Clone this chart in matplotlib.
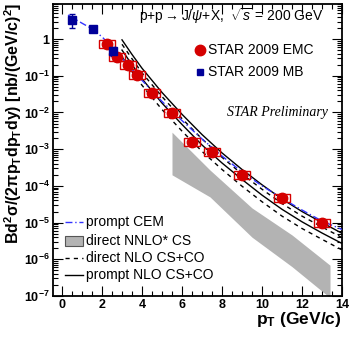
import math
import matplotlib
matplotlib.use("Agg")
import matplotlib.pyplot as plt
from matplotlib.patches import Rectangle
from matplotlib.lines import Line2D
from matplotlib.ticker import FixedLocator, FuncFormatter, LogLocator, NullFormatter

plt.rcParams["font.family"] = ["Liberation Sans", "DejaVu Sans"]
plt.rcParams["mathtext.fontset"] = "custom"
plt.rcParams["mathtext.rm"] = "Liberation Sans"
plt.rcParams["mathtext.bf"] = "Liberation Sans:bold"
plt.rcParams["mathtext.it"] = "Liberation Sans:italic"

# ---------------------------------------------
# STAR 2009 data
# ---------------------------------------------
emc_pt = [2.25, 2.75, 3.3, 3.75, 4.5, 5.5, 6.5, 7.5, 9.0, 11.0, 13.0]
emc_y = [0.73, 0.32, 0.195, 0.105, 0.034, 0.0096, 0.0016, 8.3e-4, 2.0e-4, 4.7e-5, 9.8e-6]
emc_stat = [0.06, 0.03, 0.02, 0.01, 0.004, 0.0012, 0.0004, 1.2e-4, 3e-5, 8e-6, 2e-6]
emc_sys_dx = 0.4
emc_sys_frac = 0.28

mb_pt = [0.5, 1.55, 2.55]
mb_y = [3.3, 1.9, 0.47]
mb_err_lo = [1.3, 0.35, 0.12]
mb_err_hi = [1.5, 0.35, 0.12]

# ---------------------------------------------
# Theory curves
# ---------------------------------------------
cem_pt = [0.3, 1.0, 1.5, 2.0, 2.5, 3.0, 4.0, 5.0, 6.0, 7.0, 8.0, 9.0, 10.0, 11.0, 12.0, 13.0, 14.0]
cem_y = [4.5, 2.7, 1.9, 1.15, 0.6, 0.3, 0.075, 0.02, 0.006, 0.0019, 6.5e-4, 2.4e-4,
         1.0e-4, 4.6e-5, 2.2e-5, 1.1e-5, 6.5e-6]

nlo_pt = [3.0, 3.5, 4.0, 5.0, 6.0, 7.0, 8.0, 9.0, 10.0, 11.0, 12.0, 13.0, 14.0]
prompt_hi = [0.95, 0.38, 0.16, 0.035, 0.0089, 0.0025, 7.9e-4, 2.8e-4, 1.07e-4, 4.4e-5, 2.0e-5, 1.0e-5, 5.1e-6]
direct_hi = [0.72, 0.29, 0.12, 0.027, 0.0068, 0.0019, 6.0e-4, 2.1e-4, 8.1e-5, 3.3e-5, 1.5e-5, 7.6e-6, 3.9e-6]
prompt_lo = [0.5, 0.2, 0.083, 0.018, 0.0047, 0.0013, 4.2e-4, 1.5e-4, 5.6e-5, 2.3e-5, 1.05e-5, 5.2e-6, 2.7e-6]
direct_lo = [0.33, 0.13, 0.055, 0.012, 0.0031, 8.7e-4, 2.8e-4, 9.8e-5, 3.7e-5, 1.5e-5, 6.9e-6, 3.5e-6, 1.8e-6]

nnlo_pt = [5.5, 7.4, 9.5, 11.5, 13.4]
nnlo_hi = [2.9e-3, 2.7e-4, 2.5e-5, 4.6e-6, 6.9e-7]
nnlo_lo = [2.0e-4, 5.0e-5, 4.0e-6, 6.3e-7, 9.0e-8]

RED = "#d50000"
NAVY = "#000099"
CEMBLUE = "#3333ff"
GRAY = "#b3b3b3"

# ---------------------------------------------
# Figure
# ---------------------------------------------
W, H = 349, 337
fig = plt.figure(figsize=(W / 100, H / 100), dpi=100)
ax = fig.add_axes([53 / W, 1 - 296 / H, (342 - 53) / W, (296 - 4) / H])


def fpos(px, py):
    return px / W, 1 - py / H


ax.fill_between(nnlo_pt, nnlo_lo, nnlo_hi, color=GRAY, lw=0, zorder=1)
for ys, ls in [(prompt_hi, "-"), (prompt_lo, "-"), (direct_hi, "--"), (direct_lo, "--")]:
    ax.plot(nlo_pt, ys, color="black", ls=ls, lw=1.0, dashes=(3, 3) if ls == "--" else (None, None), zorder=2)
ax.plot(cem_pt, cem_y, color=CEMBLUE, lw=1.0, dashes=(5, 2, 1, 2), zorder=3)

# systematic boxes
for x, y in zip(emc_pt, emc_y):
    ax.add_patch(Rectangle((x - emc_sys_dx, y / (1 + emc_sys_frac)), 2 * emc_sys_dx,
                           y * (1 + emc_sys_frac) - y / (1 + emc_sys_frac),
                           fill=False, ec=RED, lw=1.0, zorder=4))
ax.errorbar(emc_pt, emc_y, yerr=emc_stat, fmt="o", color=RED, ms=7.5, elinewidth=1.0,
            capsize=0, zorder=5)
ax.errorbar(mb_pt, mb_y, yerr=[mb_err_lo, mb_err_hi], fmt="s", color=NAVY, ms=6,
            elinewidth=1.0, capsize=2.5, zorder=5)

# ---------------------------------------------
# Axes styling
# ---------------------------------------------
ax.set_yscale("log")
ax.set_xlim(-0.45, 14)
ax.set_ylim(1e-7, 9)
ax.xaxis.set_major_locator(FixedLocator([0, 2, 4, 6, 8, 10, 12, 14]))
ax.xaxis.set_minor_locator(FixedLocator([v * 0.5 for v in range(-1, 29)]))
ax.yaxis.set_major_locator(LogLocator(base=10, numticks=20))
ax.yaxis.set_minor_locator(LogLocator(base=10, subs=[2, 3, 4, 5, 6, 7, 8, 9], numticks=20))
ax.yaxis.set_minor_formatter(NullFormatter())


def yfmt(v, pos):
    e = int(round(math.log10(v)))
    if e == 0:
        return "1"
    return r"$\mathbf{10^{%d}}$" % e


ax.yaxis.set_major_formatter(FuncFormatter(yfmt))
ax.tick_params(which="both", direction="in", top=True, right=True, width=0.8)
ax.tick_params(which="major", length=7, labelsize=9, pad=2.5)
ax.tick_params(which="minor", length=3.5)
for lab in ax.get_xticklabels() + ax.get_yticklabels():
    lab.set_fontweight("bold")
for s in ax.spines.values():
    s.set_linewidth(1.3)

# axis titles
fig.text(*fpos(342, 324), r"$\mathbf{p_{T}}$ (GeV/c)", ha="right", va="baseline",
         fontsize=12.5, fontweight="bold")
fig.text(*fpos(13, 3), r"$\mathbf{Bd^{2}\sigma/(2\pi p_{T}dp_{T}dy)\ [nb/(GeV/c)^{2}]}$",
         rotation=90, ha="center", va="top", fontsize=11.5)

# labels in the frame
fig.text(*fpos(139, 16), r"p+p$\rightarrow$J/$\psi$+X,  $\sqrt{s}$ = 200 GeV",
         ha="left", va="center", fontsize=10)
fig.text(*fpos(328, 113), "STAR Preliminary", ha="right", va="center", fontsize=10,
         family="Liberation Serif", style="italic")

# top-right legend
fig.add_artist(Line2D([fpos(200, 50)[0]], [fpos(200, 50)[1]], marker="o", color=RED, ms=7.5, ls=""))
fig.text(*fpos(208, 50), "STAR 2009 EMC", ha="left", va="center", fontsize=10)
fig.add_artist(Line2D([fpos(200, 72)[0]], [fpos(200, 72)[1]], marker="s", color=NAVY, ms=5, ls=""))
fig.text(*fpos(208, 72), "STAR 2009 MB", ha="left", va="center", fontsize=10)

# bottom-left legend
x0, x1 = 65, 83
y_c = [222, 241, 258, 275]
p0, p1 = fpos(x0, y_c[0]), fpos(x1, y_c[0])
fig.add_artist(Line2D([p0[0], p1[0]], [p0[1], p1[1]], color=CEMBLUE, lw=1.0, dashes=(5, 2, 1, 2)))
bl = fpos(x0, y_c[1] + 5)
fig.add_artist(Rectangle(bl, (x1 - x0) / W, 10 / H, transform=fig.transFigure,
                         fc=GRAY, ec="#555555", lw=0.8))
p0, p1 = fpos(x0, y_c[2]), fpos(x1, y_c[2])
fig.add_artist(Line2D([p0[0], p1[0]], [p0[1], p1[1]], color="black", lw=1.0, dashes=(3, 3)))
p0, p1 = fpos(x0, y_c[3]), fpos(x1, y_c[3])
fig.add_artist(Line2D([p0[0], p1[0]], [p0[1], p1[1]], color="black", lw=1.0))
legend_txt = ["prompt CEM", "direct NNLO* CS", "direct NLO CS+CO", "prompt NLO CS+CO"]
for t, yy in zip(legend_txt, y_c):
    fig.text(*fpos(86, yy), t, ha="left", va="center", fontsize=10)

fig.savefig("out.png", dpi=100)
